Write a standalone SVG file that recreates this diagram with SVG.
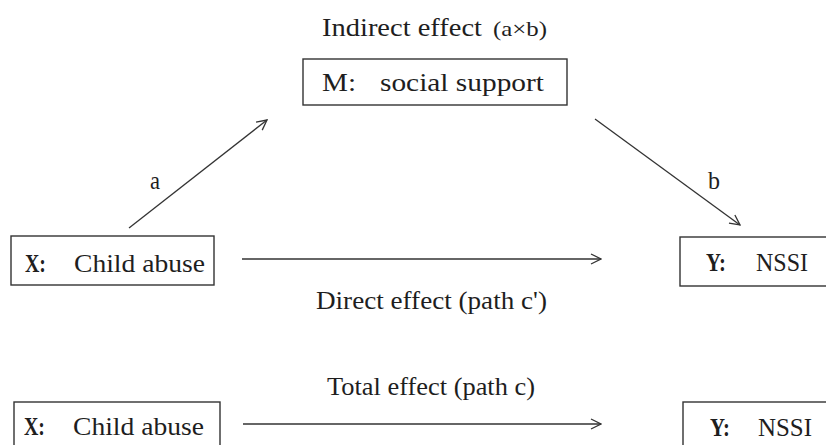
<svg xmlns="http://www.w3.org/2000/svg" width="826" height="445" viewBox="0 0 826 445">
<style>
text{font-family:"Liberation Serif","Times New Roman",serif;fill:#1e1e1e;font-size:26px}
.b{font-weight:bold}
.box{fill:#fff;stroke:#333;stroke-width:1.4}
.ln{stroke:#333;stroke-width:1.3;fill:none;marker-end:url(#ah)}
</style>
<defs>
<marker id="ah" viewBox="0 0 12 12" refX="11" refY="6" markerWidth="12" markerHeight="12" markerUnits="userSpaceOnUse" orient="auto">
<path d="M1,1 L11,6 L1,11" fill="none" stroke="#333" stroke-width="1.3"/>
</marker>
</defs>
<g id="connectors">
<line class="ln" x1="129" y1="228" x2="267" y2="120"/>
<line class="ln" x1="595" y1="119" x2="740" y2="225"/>
<line class="ln" x1="242" y1="259" x2="601" y2="259"/>
<line class="ln" x1="243" y1="424" x2="601" y2="424"/>
<text x="150" y="189" textLength="10" lengthAdjust="spacingAndGlyphs">a</text>
<text x="708" y="189" textLength="12" lengthAdjust="spacingAndGlyphs">b</text>
<text x="322" y="36" textLength="160" lengthAdjust="spacingAndGlyphs">Indirect effect</text>
<text x="493" y="36" textLength="54" lengthAdjust="spacingAndGlyphs" style="font-size:21px">(a×b)</text>
<text x="316" y="309" textLength="231" lengthAdjust="spacingAndGlyphs">Direct effect (path c')</text>
<text x="327" y="395" textLength="208" lengthAdjust="spacingAndGlyphs">Total effect (path c)</text>
</g>
<g id="node-m">
<rect class="box" x="303" y="59" width="264" height="46"/>
<text x="322" y="91" textLength="34" lengthAdjust="spacingAndGlyphs">M:</text>
<text x="380" y="91" textLength="164" lengthAdjust="spacingAndGlyphs">social support</text>
</g>
<g id="node-x">
<rect class="box" x="11" y="236" width="203" height="49"/>
<text class="b" x="25" y="272" textLength="21" lengthAdjust="spacingAndGlyphs">X:</text>
<text x="74" y="272" textLength="131" lengthAdjust="spacingAndGlyphs">Child abuse</text>
</g>
<g id="node-y">
<rect class="box" x="680" y="237" width="160" height="49"/>
<text class="b" x="706" y="271" textLength="20" lengthAdjust="spacingAndGlyphs">Y:</text>
<text x="756" y="271" textLength="52" lengthAdjust="spacingAndGlyphs">NSSI</text>
</g>
<g id="node-x2">
<rect class="box" x="14" y="402" width="206" height="60"/>
<text class="b" x="24" y="435" textLength="21" lengthAdjust="spacingAndGlyphs">X:</text>
<text x="73" y="435" textLength="131" lengthAdjust="spacingAndGlyphs">Child abuse</text>
</g>
<g id="node-y2">
<rect class="box" x="683" y="402" width="160" height="60"/>
<text class="b" x="710" y="436" textLength="20" lengthAdjust="spacingAndGlyphs">Y:</text>
<text x="758" y="436" textLength="54" lengthAdjust="spacingAndGlyphs">NSSI</text>
</g>
</svg>
